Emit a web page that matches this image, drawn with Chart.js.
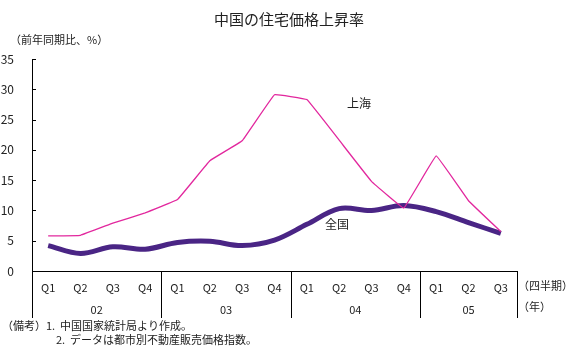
<!DOCTYPE html>
<html>
<head>
<meta charset="utf-8">
<script src="https://cdn.jsdelivr.net/npm/chart.js@4/dist/chart.umd.min.js"></script>
<style>
  html, body { margin: 0; padding: 0; background: #fff; }
  #wrap { width: 576px; height: 351px; }
</style>
</head>
<body>
<div id="wrap"><canvas id="priceChart" width="576" height="351"></canvas></div>
<script>
// data
const quarters = ['Q1','Q2','Q3','Q4','Q1','Q2','Q3','Q4','Q1','Q2','Q3','Q4','Q1','Q2','Q3'];
const years = ['02', '03', '04', '05'];
const yearSizes = [4, 4, 4, 3];
const shanghai = [5.8, 5.9, 7.9, 9.6, 11.8, 18.2, 21.5, 29.1, 28.3, 21.6, 14.8, 10.4, 19.0, 11.6, 6.5];
const national = [4.2, 2.9, 4.0, 3.6, 4.7, 4.9, 4.2, 5.1, 7.7, 10.3, 10.0, 10.8, 9.8, 8.0, 6.2];
const yTicks = [0, 5, 10, 15, 20, 25, 30, 35];

const JP = '"Noto Sans CJK JP", "Noto Sans", sans-serif';

// draws the inward y ticks, the category box under the axis and all the texts
const decorPlugin = {
    id: 'decor',
    afterDraw(chart) {
        const ctx = chart.ctx;
        const x = chart.scales.x;
        const y = chart.scales.y;
        const area = chart.chartArea;
        const boxBottom = 318;
        const half = (x.getPixelForValue(1) - x.getPixelForValue(0)) / 2;

        ctx.save();
        ctx.strokeStyle = '#000';
        ctx.lineWidth = 1;

        // inward ticks on y axis
        yTicks.forEach(v => {
            const py = Math.round(y.getPixelForValue(v)) + 0.5;
            ctx.beginPath();
            ctx.moveTo(area.left, py);
            ctx.lineTo(area.left + 4, py);
            ctx.stroke();
        });

        // group separators below the axis
        let idx = 0;
        const edges = [0];
        yearSizes.forEach(n => { idx += n; edges.push(idx); });
        edges.forEach(e => {
            const px = Math.round(x.getPixelForValue(e) - half) + 0.5;
            ctx.beginPath();
            ctx.moveTo(px, area.bottom);
            ctx.lineTo(px, boxBottom);
            ctx.stroke();
        });

        ctx.fillStyle = '#222';
        ctx.textAlign = 'center';
        ctx.textBaseline = 'middle';
        ctx.font = '11px ' + JP;
        quarters.forEach((q, i) => {
            ctx.fillText(q, x.getPixelForValue(i), 288);
        });
        let start = 0;
        years.forEach((yr, i) => {
            const mid = (x.getPixelForValue(start) + x.getPixelForValue(start + yearSizes[i] - 1)) / 2;
            ctx.fillText(yr, mid, 310);
            start += yearSizes[i];
        });

        ctx.textAlign = 'left';
        ctx.fillText('（四半期）', 518, 286);
        ctx.fillText('（年）', 518, 307);

        ctx.fillText('（備考）1.  中国国家統計局より作成。', 2, 326);
        ctx.fillText('2.  データは都市別不動産販売価格指数。', 56, 340);

        ctx.fillText('（前年同期比、%）', 10, 40);

        // series labels
        ctx.font = '12px ' + JP;
        ctx.fillText('上海', 347, 103);
        ctx.fillText('全国', 325, 224);

        // title
        ctx.textAlign = 'center';
        ctx.font = '15px ' + JP;
        ctx.fillText('中国の住宅価格上昇率', 289, 19);
        ctx.restore();
    }
};

const chartCanvas = document.getElementById('priceChart');
const ctx = chartCanvas.getContext('2d');

const priceChart = new Chart(ctx, {
    type: 'line',
    data: {
        labels: quarters,
        datasets: [
            {
                label: '上海',
                data: shanghai,
                borderColor: '#e2289e',
                borderWidth: 1.3,
                pointRadius: 0,
                tension: 0.05,
                fill: false
            },
            {
                label: '全国',
                data: national,
                borderColor: '#4a2585',
                borderWidth: 5,
                pointRadius: 0,
                tension: 0.35,
                fill: false
            }
        ]
    },
    options: {
        responsive: false,
        animation: false,
        layout: { padding: { top: 59, right: 59, left: 0, bottom: 0 } },
        plugins: {
            legend: { display: false },
            tooltip: { enabled: false }
        },
        scales: {
            x: {
                offset: true,
                grid: { display: false },
                border: { display: true, color: '#000', width: 1 },
                ticks: { display: false },
                afterFit(scale) { scale.height = 80; }
            },
            y: {
                min: 0,
                max: 35,
                afterBuildTicks(scale) {
                    scale.ticks = yTicks.map(v => ({ value: v }));
                },
                grid: { display: false },
                border: { display: true, color: '#000', width: 1 },
                ticks: {
                    color: '#222',
                    font: { size: 12, family: JP },
                    padding: 10
                },
                afterFit(scale) { scale.width = 32; }
            }
        }
    },
    plugins: [decorPlugin]
});
</script>
</body>
</html>
